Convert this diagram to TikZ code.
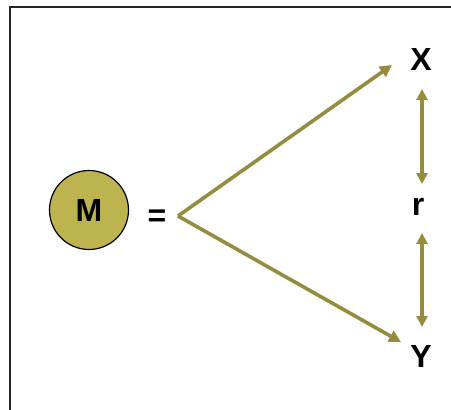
\documentclass[tikz,border=0pt]{standalone}
\usepackage{fontspec}
\setmainfont{Liberation Sans}
\usetikzlibrary{arrows.meta}
\definecolor{olivefill}{HTML}{BDB44F}
\definecolor{olivearrow}{HTML}{948D3F}
\tikzset{
  lbl/.style={font=\fontsize{32}{36}\selectfont\bfseries, inner sep=0pt, text=black},
  arr/.style={draw=olivearrow, line width=3.6pt, -{Triangle[length=12pt,width=12pt]}},
  darr/.style={draw=olivearrow, line width=3.6pt, {Triangle[length=11pt,width=11pt]}-{Triangle[length=11pt,width=11pt]}}
}
\begin{document}
\begin{tikzpicture}[x=1pt,y=-1pt]
  \useasboundingbox (0,0) rectangle (451,410);
  \clip (0,0) rectangle (451,410);
  % outer frame, running off the right and bottom edges
  \draw[line width=1.5pt, black!85] (10,7) rectangle (480,440);
  % the mediator circle
  \node[circle, draw=black, line width=1.2pt, fill=olivefill, minimum size=79pt, inner sep=0pt] (M) at (89,210) {};
  \node[lbl] (Mtxt) at (M.center) {M};
  \node[lbl] (eq) at (157,218) {=};
  % labels on the right
  \node[lbl] (X) at (421,59) {X};
  \node[lbl] (r) at (418,207) {r};
  \node[lbl] (Y) at (421,356) {Y};
  % fork and tips
  \coordinate (apex) at (178,216);
  \coordinate (xtip) at (392,65);
  \coordinate (ytip) at (401,342);
  \draw[arr] (apex) -- (xtip);
  \draw[arr] (apex) -- (ytip);
  % correlation arrows
  \coordinate (u1) at (422,89);
  \coordinate (u2) at (422,184);
  \coordinate (l1) at (422,233);
  \coordinate (l2) at (422,327);
  \draw[darr] (u1) -- (u2);
  \draw[darr] (l1) -- (l2);
\end{tikzpicture}
\end{document}
